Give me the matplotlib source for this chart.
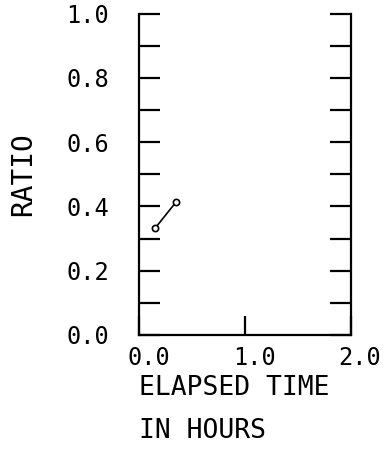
import matplotlib
matplotlib.use("Agg")
from matplotlib import pyplot as plt
from matplotlib import rcParams
from matplotlib.transforms import ScaledTranslation

rcParams["font.family"] = ["DejaVu Sans Mono"]
rcParams["text.color"] = "black"

# data
elapsed_hours = [0.15, 0.35]
ratio = [0.333, 0.415]

x_ticks = [0.0, 1.0, 2.0]
x_tick_labels = ["0.0", "1.0", "2.0"]
y_ticks = [0.0, 0.1, 0.2, 0.3, 0.4, 0.5, 0.6, 0.7, 0.8, 0.9, 1.0]
y_tick_labels = ["0.0", "", "0.2", "", "0.4", "", "0.6", "", "0.8", "", "1.0"]

fig = plt.figure(figsize=(3.88, 4.5), dpi=100)
ax = fig.add_axes([0.3595, 0.2556, 0.544, 0.7144])

ax.plot(elapsed_hours, ratio, color="black", linewidth=1.2,
        marker="o", markersize=4.5, markerfacecolor="white",
        markeredgecolor="black", markeredgewidth=1.2, clip_on=False)

ax.set_xlim(0, 2)
ax.set_ylim(0, 1)

ax.spines["top"].set_visible(False)
for side in ["left", "right", "bottom"]:
    ax.spines[side].set_linewidth(1.6)

ax.set_xticks(x_ticks)
ax.set_xticklabels(x_tick_labels, fontsize=17)
ax.set_yticks(y_ticks)
ax.set_yticklabels(y_tick_labels, fontsize=17)

ax.tick_params(axis="y", direction="in", length=15, width=1.6,
               left=True, right=True, labelright=False, pad=22)
ax.tick_params(axis="x", direction="in", length=14, width=1.6, pad=8)

offset = ScaledTranslation(0.09, 0, fig.dpi_scale_trans)
for lbl in ax.get_xticklabels():
    lbl.set_transform(lbl.get_transform() + offset)

ax.set_xlabel("ELAPSED TIME\nIN HOURS", fontsize=19, ha="left",
              va="top", linespacing=1.85)
ax.xaxis.set_label_coords(0.0, -0.125)

ax.set_ylabel("RATIO", fontsize=20, va="center")
ax.yaxis.set_label_coords(-0.55, 0.5)

fig.savefig("out.png", dpi=100)
